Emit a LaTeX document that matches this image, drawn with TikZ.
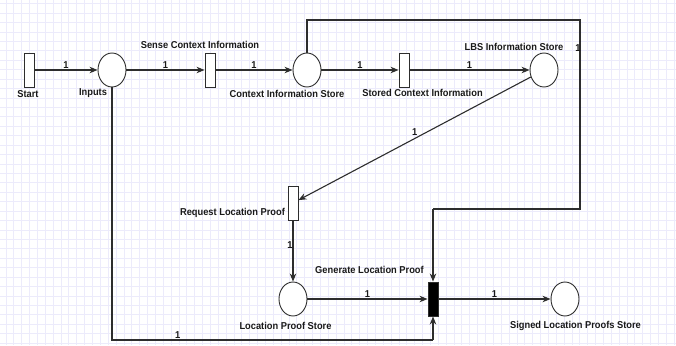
\documentclass[tikz,border=0pt]{standalone}
\usepackage{fontspec}
\setmainfont{Liberation Sans}[FakeStretch=0.93]
\usetikzlibrary{arrows.meta,shapes.geometric}

\tikzset{
  gridline/.style={draw=gridcol, line width=0.6pt},
  place/.style={ellipse, draw=linecol, line width=0.9pt, fill=white, minimum width=28pt, minimum height=34pt, inner sep=0pt},
  trans/.style={rectangle, draw=linecol, line width=0.9pt, fill=white, minimum width=10pt, minimum height=34pt, inner sep=0pt},
  flow/.style={draw=linecol, line width=1.1pt, -{Stealth[length=8pt, width=6.5pt, inset=2.5pt]}},
  wire/.style={draw=linecol, line width=1.1pt},
  title/.style={font=\bfseries\fontsize{10}{12}\selectfont, text=textcol, inner sep=0pt},
  weight/.style={font=\bfseries\fontsize{10}{12}\selectfont, text=textcol, inner sep=1pt}
}
\definecolor{gridcol}{RGB}{236,235,251}
\definecolor{linecol}{RGB}{45,45,45}
\definecolor{textcol}{RGB}{25,25,25}

\begin{document}
\begin{tikzpicture}[x=1pt, y=-1pt]
        \useasboundingbox (0,0) rectangle (676,345);
        % background grid
        \foreach \gx in {0,...,85} \draw[gridline] ({5.9+7.86*\gx},0) -- ++(0,345);
        \foreach \gy in {0,...,36} \draw[gridline] (0,{3.6+9.43*\gy}) -- ++(676,0);

        % places and transitions
        \node[trans] (start) at (29,70) {};
        \node[place] (inputs) at (112,70) {};
        \node[trans] (sense) at (210,70) {};
        \node[place] (ctxstore) at (307,70) {};
        \node[trans] (storedctx) at (404,70) {};
        \node[place] (lbsstore) at (544,70) {};
        \node[trans] (request) at (293,203) {};
        \node[place] (proofstore) at (293,299) {};
        \node[trans, fill=black] (generate) at (433,299) {};
        \node[place] (signedstore) at (565,299) {};

        % names
        \node[title] (startname) at (28,94) {Start};
        \node[title] (inputsname) at (93,93) {Inputs};
        \node[title] (sensename) at (200,44.5) {Sense Context Information};
        \node[title] (ctxname) at (287,94) {Context Information Store};
        \node[title] (storedname) at (422.5,93) {Stored Context Information};
        \node[title] (lbsname) at (514,47) {LBS Information Store};
        \node[title] (requestname) at (232.5,213) {Request Location Proof};
        \node[title] (generatename) at (369.5,270) {Generate Location Proof};
        \node[title] (proofname) at (285.5,326) {Location Proof Store};
        \node[title] (signedname) at (575.5,326) {Signed Location Proofs Store};

        % corners of the long wires
        \coordinate (topleft) at (ctxstore.north |- 0,20);
        \coordinate (topright) at (580,20);
        \coordinate (midright) at (580,209);
        \coordinate (midleft) at (generate.north |- 0,209);
        \coordinate (lowleft) at (inputs.south |- 0,340);
        \coordinate (lowright) at (generate.south |- 0,340);

        % arcs
        \draw[flow] (start) -- node[weight, above] (w1) {1} (inputs);
        \draw[flow] (inputs) -- node[weight, above] (w2) {1} (sense);
        \draw[flow] (sense) -- node[weight, above] (w3) {1} (ctxstore);
        \draw[flow] (ctxstore) -- node[weight, above] (w4) {1} (storedctx);
        \draw[flow] (storedctx) -- node[weight, above] (w5) {1} (lbsstore);
        \draw[flow] (lbsstore) -- node[weight, above, inner sep=2.5pt] (w6) {1} (request);
        \draw[flow] (request) -- node[weight, left, pos=0.4, inner sep=0pt] (w7) {1} (proofstore);
        \draw[flow] (proofstore) -- node[weight, above] (w8) {1} (generate);
        \draw[flow] (generate) -- node[weight, above] (w9) {1} (signedstore);
        \draw[wire] (ctxstore.north) -- (topleft) -- (topright)
          -- node[weight, pos=0.15, xshift=-2pt] (w10) {1} (midright) -- (midleft);
        \draw[flow] (midleft) -- (generate.north);
        \draw[wire] (inputs.south) -- (lowleft) -- node[weight, above, pos=0.205, inner sep=0.5pt] (w11) {1} (lowright);
        \draw[flow] (lowright) -- (generate.south);
    \end{tikzpicture}
\end{document}
